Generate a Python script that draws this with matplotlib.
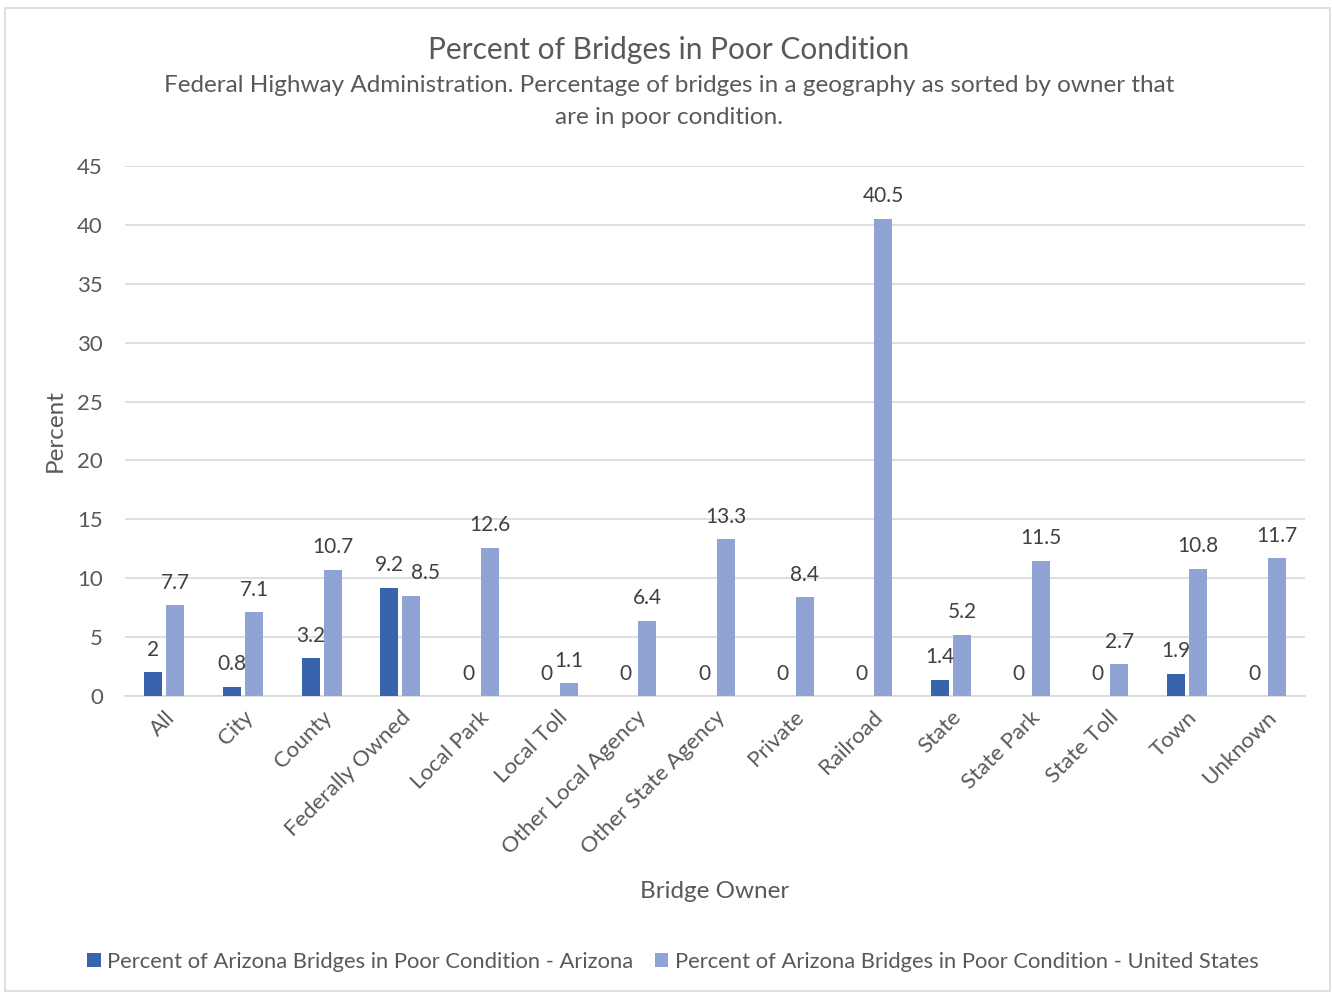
import numpy as np
import matplotlib.pyplot as plt
from matplotlib.patches import Rectangle

plt.rcParams['font.family'] = ['Lato', 'DejaVu Sans']

# bridge owners and percent in poor condition
owners = ["All", "City", "County", "Federally Owned", "Local Park", "Local Toll",
          "Other Local Agency", "Other State Agency", "Private", "Railroad",
          "State", "State Park", "State Toll", "Town", "Unknown"]
arizona = [2, 0.8, 3.2, 9.2, 0, 0, 0, 0, 0, 0, 1.4, 0, 0, 1.9, 0]
united_states = [7.7, 7.1, 10.7, 8.5, 12.6, 1.1, 6.4, 13.3, 8.4, 40.5,
                 5.2, 11.5, 2.7, 10.8, 11.7]

dark = '#3A63AD'
light = '#8FA3D5'
txt = '#595959'

fig = plt.figure(figsize=(13.32, 9.93), dpi=100)
ax = fig.add_axes([125/1332, 1 - 696/993, 1180/1332, 530/993])

# light border round the chart area
fig.patches.append(Rectangle((5/1332, 2/993), 1325/1332, 983/993, transform=fig.transFigure,
                             fill=False, edgecolor='#D9D9D9', linewidth=1.2))

x = np.arange(len(owners))
w = 0.23
off = 0.14
b1 = ax.bar(x - off, arizona, w, color=dark, label='Percent of Arizona Bridges in Poor Condition - Arizona', zorder=3)
b2 = ax.bar(x + off, united_states, w, color=light, label='Percent of Arizona Bridges in Poor Condition - United States', zorder=3)

labels = []
for bars in (b1, b2):
    labels.append(ax.bar_label(bars, labels=[f'{v:g}' for v in bars.datavalues], padding=9,
                               fontsize=15, color='#404040'))
# nudge the crowded "8.5" label to the right like Excel does
labels[1][3].xyann = (10, 9)

ax.set_xlim(-0.5, len(owners) - 0.5)
ax.set_ylim(0, 45)
ax.set_yticks(range(0, 46, 5))
ax.yaxis.grid(True, color='#D9D9D9', linewidth=1.2, zorder=0)
for s in ['top', 'right', 'left']:
    ax.spines[s].set_visible(False)
ax.spines['bottom'].set_color('#D9D9D9')
ax.spines['bottom'].set_linewidth(1.2)
ax.tick_params(axis='both', length=0, labelsize=16, labelcolor=txt)
ax.tick_params(axis='y', pad=16)
ax.set_xticks(x)
ax.set_xticklabels(owners, rotation=45, ha='right', rotation_mode='anchor')
ax.tick_params(axis='x', pad=8)

ax.set_ylabel('Percent', fontsize=17.5, color=txt, labelpad=8)
fig.text(715/1332, 1 - 892/993, 'Bridge Owner', fontsize=17.5, color=txt, ha='center', va='center')

fig.text(669/1332, 1 - 50/993, 'Percent of Bridges in Poor Condition', fontsize=21.5, color=txt,
         ha='center', va='center')
fig.text(669/1332, 1 - 85/993, 'Federal Highway Administration. Percentage of bridges in a geography as sorted by owner that',
         fontsize=17.5, color=txt, ha='center', va='center')
fig.text(669/1332, 1 - 118/993, 'are in poor condition.', fontsize=17.5, color=txt, ha='center', va='center')

fig.legend(loc='center', bbox_to_anchor=(673/1332, 1 - 962/993), ncol=2, frameon=False,
           fontsize=15.8, labelcolor=txt, handlelength=0.6, handleheight=0.6,
           handletextpad=0.3, columnspacing=1.0)

fig.savefig('out.png', dpi=100)
